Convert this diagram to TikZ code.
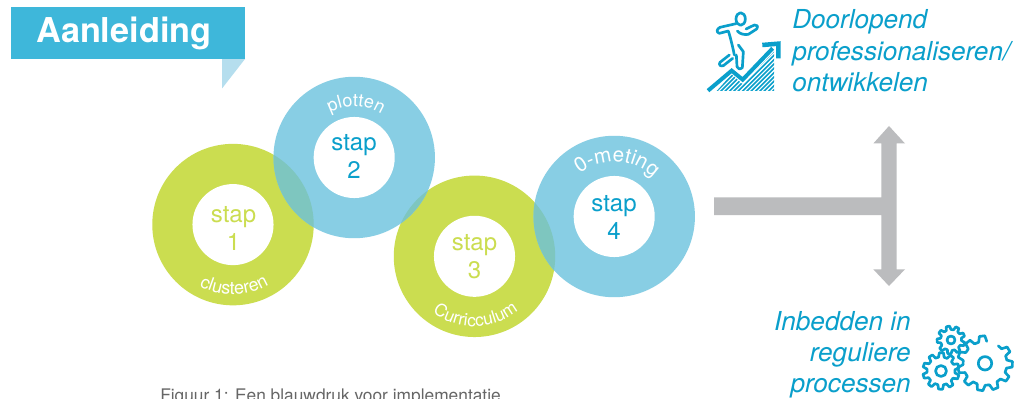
\documentclass[tikz,border=0pt]{standalone}
\usepackage{fontspec}
\setmainfont{TeX Gyre Heros}
\usetikzlibrary{decorations.text}
\definecolor{hdr}{HTML}{3EB7DA}
\definecolor{tail}{HTML}{B5DEEE}
\definecolor{ringblue}{HTML}{88CEE4}
\definecolor{ringgreen}{HTML}{CBDD50}
\definecolor{lens}{HTML}{7EC6BF}
\definecolor{ink}{HTML}{0A9FCB}
\definecolor{barg}{HTML}{BBBCBE}
\definecolor{capt}{HTML}{666666}
\tikzset{
  ring/.style={circle,minimum size=121.1pt,inner sep=0pt,fill=#1},
  hole/.style={circle,minimum size=60.8pt,inner sep=0pt,fill=white},
  staptxt/.style={inner sep=0pt,align=center,font=\fontsize{18}{21}\selectfont,text=#1},
  bigtxt/.style={anchor=base west,text=ink,font=\fontsize{19.6}{23}\selectfont\itshape,inner sep=0pt},
  bigtxtr/.style={anchor=base east,text=ink,font=\fontsize{19.6}{23}\selectfont\itshape,inner sep=0pt},
  icon/.style={draw=ink,line width=2pt,line cap=round,line join=round},
  curved/.style 2 args={decorate,decoration={text along path,text align=center,
    text={|\fontsize{#1}{#1}\selectfont\color{white}|#2}}},
}
% \gearshape{cx}{cy}{outer}{root}{teeth}{hole}{phase}{first tooth}{last tooth}
\newcommand{\gearshape}[9]{%
  \pgfmathsetmacro{\gstep}{360/#5}%
  \foreach \gi in {#8,...,#9}{%
    \pgfmathsetmacro{\ga}{#7+\gi*\gstep}%
    \draw[icon] ({#1+#4*cos(\ga)},{#2+#4*sin(\ga)})
      -- ({#1+#3*cos(\ga+.15*\gstep)},{#2+#3*sin(\ga+.15*\gstep)})
      -- ({#1+#3*cos(\ga+.5*\gstep)},{#2+#3*sin(\ga+.5*\gstep)})
      -- ({#1+#4*cos(\ga+.65*\gstep)},{#2+#4*sin(\ga+.65*\gstep)})
      -- ({#1+#4*cos(\ga+\gstep)},{#2+#4*sin(\ga+\gstep)});
  }%
  \draw[icon] (#1,#2) circle[radius=#6];
}
\begin{document}
\begin{tikzpicture}[x=0.75pt,y=0.75pt]
\clip (0,0) rectangle (1024,-399);
\fill[white] (0,0) rectangle (1024,-399);
% header
\fill[tail] (222,-59) -- (245,-59) -- (222,-88.5) -- cycle;
\fill[hdr] (11,-7) rectangle (245,-59);
\node[anchor=base west,inner sep=0pt,text=white,font=\fontsize{25.7}{28}\selectfont\bfseries] (title) at (36,-43) {Aanleiding};
% rings
\node[ring=ringgreen] (r1) at (233,-224.6) {};
\node[ring=ringgreen] (r3) at (474.5,-256.3) {};
\node[ring=ringblue] (r2) at (354.2,-157.5) {};
\node[ring=ringblue] (r4) at (614.2,-216.5) {};
\begin{scope}
  \clip (233,-224.6) circle[radius=80.7];
  \fill[lens] (354.2,-157.5) circle[radius=80.7];
\end{scope}
\begin{scope}
  \clip (474.5,-256.3) circle[radius=80.7];
  \fill[lens] (354.2,-157.5) circle[radius=80.7];
  \fill[lens] (614.2,-216.5) circle[radius=80.7];
\end{scope}
\node[hole] (h1) at (233,-224.6) {};
\node[hole] (h2) at (354.2,-157.5) {};
\node[hole] (h3) at (474.5,-256.3) {};
\node[hole] (h4) at (614.2,-216.5) {};
\node[staptxt=ringgreen] (s1) at (233.5,-228.5) {stap\\1};
\node[staptxt=ink] (s2) at (354,-156.5) {stap\\2};
\node[staptxt=ringgreen] (s3) at (474.5,-257) {stap\\3};
\node[staptxt=ink] (s4) at (614,-217) {stap\\4};
% curved labels
\path[curved={13.5}{plotten}] (354.2,-157.5) ++(148:51) arc[start angle=148,end angle=28,radius=51];
\path[curved={15.5}{0-meting}] (614.2,-216.5) ++(147:55) arc[start angle=147,end angle=27,radius=55];
\path[curved={13.5}{clusteren}] (233,-224.6) ++(226:70) arc[start angle=226,end angle=316,radius=70];
\path[curved={13}{Curricculum}] (474.5,-256.3) ++(216:70) arc[start angle=216,end angle=326,radius=70];
% grey T with arrows
\fill[barg] (714,-197.3) -- (881.3,-197.3) -- (881.3,-143.5) -- (873.3,-143.5) -- (889,-126) -- (905,-143.5) -- (896.7,-143.5)
  -- (896.7,-269.3) -- (905,-269.3) -- (889,-286) -- (873.3,-269.3) -- (881.3,-269.3) -- (881.3,-215) -- (714,-215) -- cycle;
% texts
\node[bigtxt] (t1) at (792,-29) {Doorlopend};
\node[bigtxt] (t2) at (792,-60.3) {professionaliseren/};
\node[bigtxt] (t3) at (792,-91.7) {ontwikkelen};
\node[bigtxtr] (t4) at (911,-330) {Inbedden in};
\node[bigtxtr] (t5) at (911,-361) {reguliere};
\node[bigtxtr] (t6) at (911,-392.7) {processen};
\node[anchor=base west,inner sep=0pt,text=capt,font=\fontsize{13}{15}\selectfont] (cap) at (160,-401.5) {Figuur 1: Een blauwdruk voor implementatie};
% climber icon
\begin{scope}[shift={(700,-5)},x=0.25pt,y=0.25pt]
  \begin{scope}
    \clip (50,-258) -- (95,-208) -- (128,-238) -- (222,-140) -- (222,-258) -- cycle;
    \foreach \k in {0,...,24}{
      \draw[ink,line width=1.2pt] ({20+\k*13},-262) -- ++(140,140);
      \draw[ink,line width=1.2pt] ({20-\k*13},-262) -- ++(140,140);
    }
  \end{scope}
  \draw[ink,line width=3pt,line join=miter] (24,-257) -- (95,-197) -- (128,-224) -- (218,-130);
  \draw[ink,line width=3.4pt,line join=miter] (187,-120) -- (235,-116) -- (235,-160);
  \draw[icon] (122,-42) ellipse[x radius=14,y radius=19];
  \draw[icon] (108,-56) -- (60,-67) .. controls (50,-72) and (48,-82) .. (58,-85) -- (85,-78)
    .. controls (92,-100) and (98,-125) .. (103,-150);
  \draw[icon] (88,-150) -- (60,-172) .. controls (55,-180) and (62,-185) .. (70,-182) -- (98,-160);
  \draw[icon] (115,-120) -- (130,-140) -- (127,-188) .. controls (120,-194) and (113,-192) .. (111,-185) -- (109,-150);
  \draw[icon] (112,-78) .. controls (120,-88) and (135,-90) .. (145,-88) -- (170,-72) .. controls (176,-64) and (170,-58) .. (163,-60) -- (138,-72);
\end{scope}
% gears
\gearshape{985}{-363.3}{27.5}{22}{11}{6.7}{20}{2}{11}
\gearshape{941}{-371}{18.3}{14}{10}{5.5}{5}{0}{9}
\gearshape{951}{-340}{14}{10.5}{9}{4}{10}{0}{8}
\end{tikzpicture}
\end{document}
